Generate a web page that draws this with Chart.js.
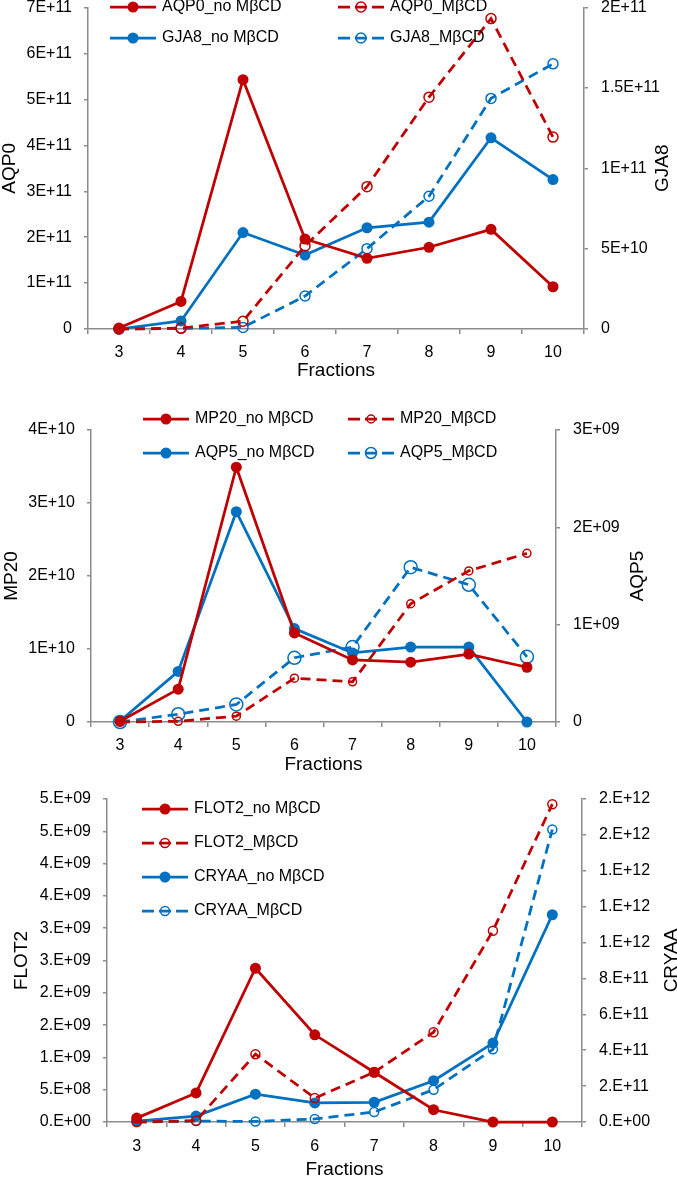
<!DOCTYPE html>
<html>
<head>
<meta charset="utf-8">
<script src="https://cdn.jsdelivr.net/npm/chart.js@4/dist/chart.umd.min.js"></script>
<style>
  html, body { margin: 0; padding: 0; background: #fff; overflow: hidden; }
  body { width: 677px; height: 1179px; position: relative; }
  canvas { position: absolute; left: 0; }
</style>
</head>
<body>
<canvas id="chart1" width="677" height="400" style="top:-15px"></canvas>
<canvas id="chart2" width="677" height="390" style="top:385px"></canvas>
<canvas id="chart3" width="700" height="404" style="top:775px"></canvas>
<script>
// fractions on the x axis (same for all three panels)
const fractions = ['3', '4', '5', '6', '7', '8', '9', '10'];

// panel 1 : AQP0 (left axis) / GJA8 (right axis)
const aqp0NoMbcd = [2e9, 6.0e10, 5.43e11, 1.96e11, 1.54e11, 1.78e11, 2.17e11, 9.2e10];
const aqp0Mbcd   = [0, 2e9, 1.7e10, 1.81e11, 3.1e11, 5.05e11, 6.76e11, 4.18e11];
const gja8NoMbcd = [0, 5e9, 6.0e10, 4.6e10, 6.3e10, 6.65e10, 1.19e11, 9.3e10];
const gja8Mbcd   = [0, 3e8, 1e9, 2.05e10, 5.0e10, 8.26e10, 1.435e11, 1.65e11];

// panel 2 : MP20 (left) / AQP5 (right)
const mp20NoMbcd = [1e8, 4.5e9, 3.49e10, 1.22e10, 8.5e9, 8.2e9, 9.3e9, 7.5e9];
const mp20Mbcd   = [0, 1e8, 8e8, 6.0e9, 5.5e9, 1.62e10, 2.07e10, 2.31e10];
const aqp5NoMbcd = [1e7, 5.2e8, 2.16e9, 9.6e8, 7.1e8, 7.7e8, 7.7e8, 0];
const aqp5Mbcd   = [0, 8e7, 1.8e8, 6.6e8, 7.7e8, 1.59e9, 1.41e9, 6.7e8];

// panel 3 : FLOT2 (left) / CRYAA (right)
const flot2NoMbcd = [6e7, 4.5e8, 2.38e9, 1.35e9, 7.7e8, 1.9e8, 0, 0];
const flot2Mbcd   = [0, 2e7, 1.05e9, 3.7e8, 7.7e8, 1.39e9, 2.96e9, 4.92e9];
const cryaaNoMbcd = [5e9, 3.3e10, 1.55e11, 1.06e11, 1.1e11, 2.3e11, 4.4e11, 1.155e12];
const cryaaMbcd   = [0, 5e9, 3e9, 1.7e10, 5.6e10, 1.8e11, 4.05e11, 1.63e12];

const FONT = "'Liberation Sans', Arial, sans-serif";
const RED = '#C00000';
const BLUE = '#0070C0';
const AXIS = '#8C8C8C';

// Excel "General" style: 0, 5E+10, 1.5E+11
function fmtGeneral(v) {
  if (Math.abs(v) < 1) return '0';
  const e = Math.floor(Math.log10(v * (1 + 1e-9)));
  const m = Math.round(v / Math.pow(10, e) * 100) / 100;
  return m + 'E+' + String(e).padStart(2, '0');
}
// Excel "0.E+00" style: 5.E+09
function fmtZero(v) {
  if (Math.abs(v) < 1) return '0.E+00';
  let e = Math.floor(Math.log10(v * (1 + 1e-9)));
  let m = Math.round(v / Math.pow(10, e) + 1e-9);
  if (m === 10) { m = 1; e++; }
  return m + '.E+' + String(e).padStart(2, '0');
}

function line(label, data, color, axis, dashed, radius) {
  return {
    label: label,
    data: data,
    yAxisID: axis,
    borderColor: color,
    backgroundColor: color,
    borderWidth: 2.75,
    borderDash: dashed ? [10, 6] : [],
    tension: 0,
    fill: false,
    clip: false,
    pointRadius: radius,
    pointHoverRadius: radius,
    pointBorderWidth: dashed ? 1.5 : 0,
    pointBorderColor: color,
    pointBackgroundColor: dashed ? 'rgba(0,0,0,0)' : color,
  };
}

// legend + right axis title, drawn on top of the plot like in the Excel figure
function overlay(rightTitle, rightTitleX, legendItems) {
  return {
    id: 'overlay',
    afterDraw(chart) {
      const ctx = chart.ctx;
      const area = chart.chartArea;
      ctx.save();
      ctx.fillStyle = '#000';
      ctx.font = '19px ' + FONT;
      ctx.textAlign = 'center';
      ctx.textBaseline = 'middle';
      ctx.translate(rightTitleX, (area.top + area.bottom) / 2);
      ctx.rotate(-Math.PI / 2);
      ctx.fillText(rightTitle, 0, 0);
      ctx.restore();

      legendItems.forEach(item => {
        const ds = chart.data.datasets[item[0]];
        const x0 = item[1], y = item[2];
        const dashed = ds.borderDash.length > 0;
        ctx.save();
        ctx.strokeStyle = ds.borderColor;
        ctx.lineWidth = ds.borderWidth;
        ctx.setLineDash(dashed ? [12, 5] : []);
        ctx.beginPath();
        ctx.moveTo(x0, y);
        ctx.lineTo(x0 + 46, y);
        ctx.stroke();
        ctx.setLineDash([]);
        ctx.beginPath();
        ctx.arc(x0 + 23, y, Math.min(ds.pointRadius, 5.5), 0, Math.PI * 2);
        if (dashed) {
          ctx.lineWidth = 1.5;
          ctx.stroke();
        } else {
          ctx.fillStyle = ds.borderColor;
          ctx.fill();
        }
        ctx.fillStyle = '#000';
        ctx.font = '16px ' + FONT;
        ctx.textAlign = 'left';
        ctx.textBaseline = 'middle';
        ctx.fillText(ds.label, x0 + 52, y);
        ctx.restore();
      });
    }
  };
}

function makeChart(id, cfg) {
  const tickFont = { family: FONT, size: 16 };
  const titleFont = { family: FONT, size: 19, lineHeight: 1 };
  return new Chart(document.getElementById(id), {
    type: 'line',
    data: { labels: fractions, datasets: cfg.datasets },
    options: {
      responsive: false,
      animation: false,
      devicePixelRatio: 1,
      events: [],
      layout: { autoPadding: false, padding: { top: cfg.padTop, left: 0, right: 0, bottom: 0 } },
      plugins: { legend: { display: false }, tooltip: { enabled: false } },
      scales: {
        x: {
          type: 'category',
          offset: true,
          grid: { display: true, drawOnChartArea: false, offset: true, color: AXIS, tickLength: 5, lineWidth: 1.5 },
          border: { display: true, color: AXIS, width: 1.5 },
          ticks: { color: '#000', font: tickFont, padding: cfg.xTickPad, maxRotation: 0, autoSkip: false },
          title: { display: true, text: 'Fractions', color: '#000', font: titleFont, padding: { top: 0, bottom: cfg.xTitlePad } },
          afterFit: s => { s.height = cfg.xHeight; }
        },
        yL: {
          position: 'left',
          min: 0, max: cfg.leftMax,
          grid: { display: true, drawOnChartArea: false, color: AXIS, tickLength: 4, lineWidth: 1.5 },
          border: { display: true, color: AXIS, width: 1.5 },
          ticks: { stepSize: cfg.leftStep, color: '#000', font: tickFont, padding: 12, callback: v => cfg.fmt(v) },
          title: { display: true, text: cfg.leftTitle, color: '#000', font: titleFont, padding: { top: cfg.leftTitlePad, bottom: 0 } },
          afterFit: s => { s.width = cfg.leftWidth; }
        },
        yR: {
          position: 'right',
          min: 0, max: cfg.rightMax,
          grid: { display: true, drawOnChartArea: false, color: AXIS, tickLength: 4, lineWidth: 1.5 },
          border: { display: true, color: AXIS, width: 1.5 },
          ticks: { stepSize: cfg.rightStep, color: '#000', font: tickFont, padding: 13, callback: v => cfg.fmt(v) },
          afterFit: s => { s.width = cfg.rightWidth; }
        }
      }
    },
    plugins: [overlay(cfg.rightTitle, cfg.rightTitleX, cfg.legend)]
  });
}

makeChart('chart1', {
  datasets: [
    line('AQP0_no M\u03B2CD', aqp0NoMbcd, RED, 'yL', false, 5.5),
    line('AQP0_M\u03B2CD', aqp0Mbcd, RED, 'yL', true, 5),
    line('GJA8_no M\u03B2CD', gja8NoMbcd, BLUE, 'yR', false, 5.5),
    line('GJA8_M\u03B2CD', gja8Mbcd, BLUE, 'yR', true, 5),
  ],
  padTop: 22, xHeight: 56, xTickPad: 9, xTitlePad: 5,
  leftMax: 7e11, leftStep: 1e11, rightMax: 2e11, rightStep: 5e10,
  fmt: fmtGeneral,
  leftTitle: 'AQP0', leftTitlePad: 0, leftWidth: 88,
  rightTitle: 'GJA8', rightTitleX: 663, rightWidth: 93,
  legend: [[0, 110, 22], [1, 338, 22], [2, 110, 53], [3, 338, 53]]
});

makeChart('chart2', {
  datasets: [
    line('MP20_no M\u03B2CD', mp20NoMbcd, RED, 'yL', false, 5.5),
    line('MP20_M\u03B2CD', mp20Mbcd, RED, 'yL', true, 4),
    line('AQP5_no M\u03B2CD', aqp5NoMbcd, BLUE, 'yR', false, 5.5),
    line('AQP5_M\u03B2CD', aqp5Mbcd, BLUE, 'yR', true, 6.5),
  ],
  padTop: 45, xHeight: 53, xTickPad: 9, xTitlePad: 1,
  leftMax: 4e10, leftStep: 1e10, rightMax: 3e9, rightStep: 1e9,
  fmt: fmtGeneral,
  leftTitle: 'MP20', leftTitlePad: 2, leftWidth: 91,
  rightTitle: 'AQP5', rightTitleX: 638, rightWidth: 121,
  legend: [[0, 143, 34], [1, 348, 34], [2, 143, 68], [3, 348, 68]]
});

makeChart('chart3', {
  datasets: [
    line('FLOT2_no M\u03B2CD', flot2NoMbcd, RED, 'yL', false, 5.5),
    line('FLOT2_M\u03B2CD', flot2Mbcd, RED, 'yL', true, 4.5),
    line('CRYAA_no M\u03B2CD', cryaaNoMbcd, BLUE, 'yR', false, 5.5),
    line('CRYAA_M\u03B2CD', cryaaMbcd, BLUE, 'yR', true, 4.5),
  ],
  padTop: 24, xHeight: 57, xTickPad: 10, xTitlePad: 0,
  leftMax: 5e9, leftStep: 5e8, rightMax: 1.8e12, rightStep: 2e11,
  fmt: fmtZero,
  leftTitle: 'FLOT2', leftTitlePad: 12, leftWidth: 107,
  rightTitle: 'CRYAA', rightTitleX: 672, rightWidth: 118,
  legend: [[0, 142, 34], [1, 142, 68], [2, 142, 102], [3, 142, 136]]
});
</script>
</body>
</html>
